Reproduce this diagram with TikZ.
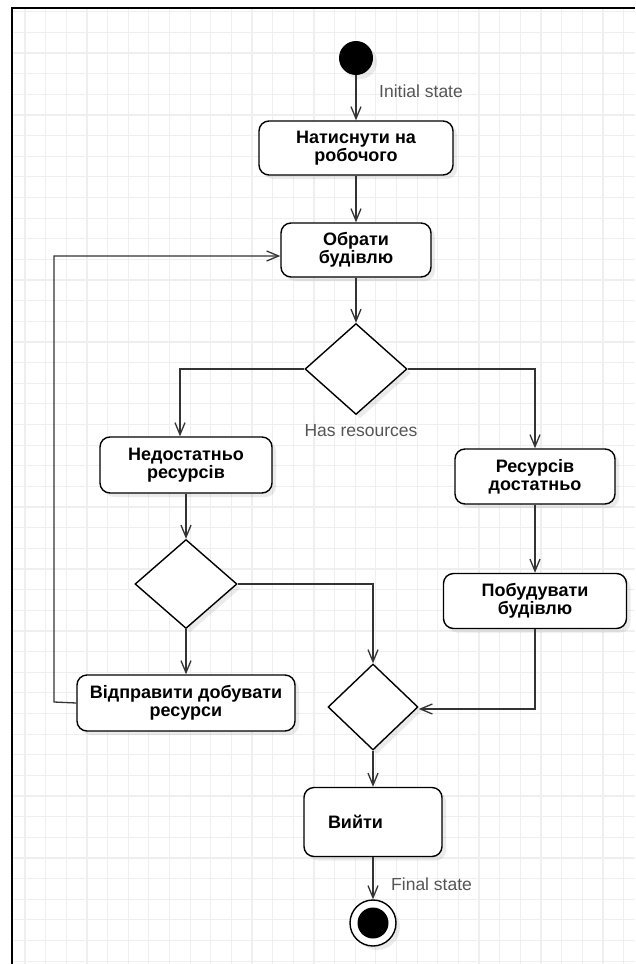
\documentclass[tikz,border=0pt]{standalone}
\usepackage{fontspec}
\setmainfont{Liberation Sans}
\usetikzlibrary{arrows.meta,shapes.geometric,shadows}
\definecolor{gridc}{HTML}{EFEFEF}
\definecolor{linec}{HTML}{333333}
\definecolor{labelc}{HTML}{555555}
\begin{document}
\begin{tikzpicture}[x=1pt,y=-1pt,
  softshadow/.style={drop shadow={shadow xshift=4pt,shadow yshift=-4pt,fill=black,opacity=0.08}},
  action/.style={draw=black,line width=1.4pt,rounded corners=10pt,fill=white,
    align=center,inner sep=0pt,font=\fontsize{18}{18}\selectfont\bfseries,softshadow},
  choice/.style={diamond,draw=black,line width=1.4pt,fill=white,inner sep=0pt,softshadow},
  flow/.style={draw=linec,line width=1.3pt,-{Straight Barb[length=12pt,width=10pt]}},
  note/.style={text=labelc,font=\fontsize{17.5}{19}\selectfont,inner sep=0pt}
]
% page and background
\useasboundingbox (0,0) rectangle (635,964);
\fill[white] (0,0) rectangle (635,964);

% grid
\foreach \i in {0,...,29}
  \draw[gridc,line width=1.2pt] ({25+20.64*\i},8) -- ({25+20.64*\i},964);
\foreach \j in {0,...,46}
  \draw[gridc,line width=1.2pt] (12,{11.7+20.64*\j}) -- (635,{11.7+20.64*\j});

% frame
\draw[black,line width=2pt] (12,964) -- (12,8) -- (635,8);

% states and actions
\node[circle,fill=black,minimum size=34pt,inner sep=0pt,softshadow] (init) at (356,58) {};
\node[action,minimum width=194pt,minimum height=54pt] (n1) at (356,148) {Натиснути на\\робочого};
\node[action,minimum width=150pt,minimum height=54pt] (n2) at (356,250) {Обрати\\будівлю};
\node[choice,minimum width=102pt,minimum height=91pt] (d1) at (356,369) {};
\node[action,minimum width=172pt,minimum height=56pt] (n3) at (186,465) {Недостатньо\\ресурсів};
\node[action,minimum width=160pt,minimum height=55pt] (n4) at (535,476.5) {Ресурсів\\достатньо};
\node[choice,minimum width=102pt,minimum height=89pt] (d2) at (186,584) {};
\node[action,minimum width=183pt,minimum height=55pt] (n6) at (535,601) {Побудувати\\будівлю};
\node[action,minimum width=218pt,minimum height=56pt] (n5) at (186,703) {Відправити добувати\\ресурси};
\node[choice,minimum width=90pt,minimum height=86pt] (d3) at (373,707) {};
\node[action,minimum width=138pt,minimum height=69pt,text width=90pt,align=left] (n7) at (373,822) {Вийти};
\node[circle,draw=black,line width=1.4pt,fill=white,minimum size=46pt,inner sep=0pt,softshadow] (fin) at (373,923) {};
\node[circle,fill=black,minimum size=31pt,inner sep=0pt] (fincore) at (fin.center) {};

% labels
\node[note,anchor=west] (lblinit) at (379,91) {Initial state};
\node[note] (lblhas) at (361,431) {Has resources};
\node[note,anchor=west] (lblfin) at (391,884) {Final state};

% connectors
\coordinate (loopc) at (54,702);
\draw[flow] (init) -- (n1);
\draw[flow] (n1) -- (n2);
\draw[flow] (n2) -- (d1);
\draw[flow] (d1.west) -| ([xshift=-6pt]n3.north);
\draw[flow] (d1.east) -| (n4.north);
\draw[flow] (n3) -- (d2);
\draw[flow] (d2) -- (n5);
\draw[flow] (d2.east) -| (d3.north);
\draw[flow] (n4) -- (n6);
\draw[flow] (n6.south) |- ([yshift=-2pt]d3.east);
\draw[flow] (n5.west) -- (loopc) |- ([yshift=-6pt]n2.west);
\draw[flow] (d3) -- (n7);
\draw[flow] (n7) -- (fin);
\end{tikzpicture}
\end{document}
